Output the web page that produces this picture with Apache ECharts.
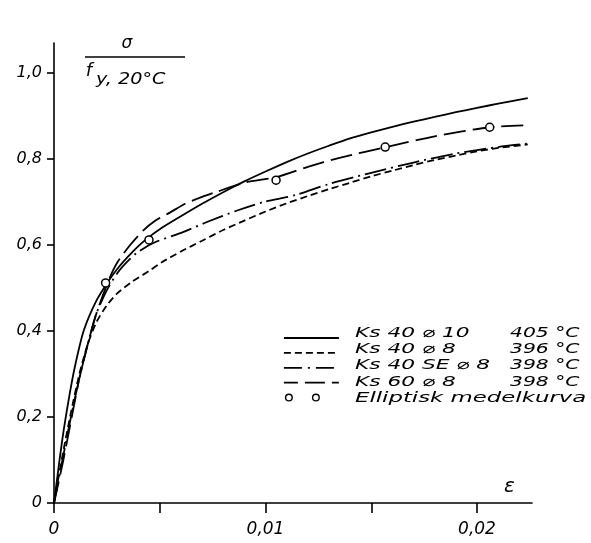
<!DOCTYPE html>
<html><head><meta charset="utf-8">
<script src="https://cdn.jsdelivr.net/npm/echarts@6/dist/echarts.min.js"></script>
<style>html,body{margin:0;padding:0;background:#fff}#c{width:591px;height:543px}</style>
</head><body><div id="c"></div>
<script>
// axis ticks / labels
const xTicks = [0, 0.005, 0.01, 0.015, 0.02];
const xLabels = [0, 0.01, 0.02];
const yTicks = [0, 0.2, 0.4, 0.6, 0.8, 1.0];

// legend texts
const seriesNames = ['Ks 40 \u2300 10', 'Ks 40 \u2300 8', 'Ks 40 SE \u2300 8', 'Ks 60 \u2300 8', 'Elliptisk medelkurva'];
const temps = ['405 °C', '396 °C', '398 °C', '398 °C', ''];

// Ks 40 ⌀ 10 (solid)
const s1X = [0, 0.0004, 0.00075, 0.001, 0.0014, 0.002, 0.0026, 0.003, 0.0035, 0.004, 0.0045, 0.005, 0.006, 0.007, 0.008, 0.009, 0.010, 0.011, 0.012, 0.013, 0.014, 0.015, 0.016, 0.017, 0.018, 0.019, 0.020, 0.021, 0.0224];
const s1Y = [0, 0.15, 0.256, 0.32, 0.40, 0.47, 0.518, 0.545, 0.573, 0.598, 0.619, 0.637, 0.667, 0.696, 0.723, 0.748, 0.771, 0.793, 0.813, 0.831, 0.848, 0.862, 0.875, 0.887, 0.898, 0.909, 0.919, 0.929, 0.942];

// Ks 40 ⌀ 8 (short dash)
const s2X = [0, 0.0004, 0.0008, 0.0012, 0.0016, 0.002, 0.0025, 0.003, 0.0037, 0.0045, 0.0051, 0.006, 0.007, 0.008, 0.009, 0.010, 0.011, 0.012, 0.013, 0.014, 0.015, 0.016, 0.017, 0.018, 0.019, 0.020, 0.021, 0.0224];
const s2Y = [0, 0.11, 0.21, 0.30, 0.37, 0.42, 0.46, 0.488, 0.515, 0.54, 0.56, 0.585, 0.61, 0.635, 0.657, 0.678, 0.697, 0.714, 0.73, 0.745, 0.76, 0.773, 0.786, 0.798, 0.808, 0.818, 0.826, 0.834];

// Ks 40 SE ⌀ 8 (dash-dot)
const s3X = [0, 0.0004, 0.0008, 0.0012, 0.0016, 0.002, 0.0025, 0.003, 0.0035, 0.004, 0.0048, 0.0061, 0.0072, 0.0087, 0.0099, 0.0114, 0.013, 0.015, 0.017, 0.019, 0.021, 0.0224];
const s3Y = [0, 0.10, 0.20, 0.29, 0.37, 0.44, 0.495, 0.535, 0.563, 0.585, 0.607, 0.630, 0.653, 0.681, 0.700, 0.716, 0.742, 0.768, 0.792, 0.813, 0.828, 0.836];

// Ks 60 ⌀ 8 (long dash)
const s4X = [0, 0.0004, 0.0008, 0.0012, 0.0016, 0.002, 0.0026, 0.003, 0.0036, 0.0042, 0.0048, 0.0055, 0.0062, 0.007, 0.0077, 0.009, 0.0105, 0.012, 0.0135, 0.0157, 0.018, 0.0206, 0.0224];
const s4Y = [0, 0.09, 0.19, 0.29, 0.37, 0.44, 0.52, 0.56, 0.60, 0.633, 0.657, 0.676, 0.696, 0.712, 0.724, 0.745, 0.758, 0.782, 0.803, 0.828, 0.853, 0.874, 0.879];

// Elliptisk medelkurva (circles)
const ellX = [0.00244, 0.00449, 0.0105, 0.01566, 0.0206];
const ellY = [0.512, 0.612, 0.751, 0.828, 0.874];

const zip = (xs, ys) => xs.map((x, i) => [x, ys[i]]);
const FONT = 'DejaVu Sans';
const fmtX = v => v === 0 ? '0' : v.toFixed(2).replace('.', ',');
const fmtY = v => v === 0 ? '0' : v.toFixed(1).replace('.', ',');

function ring(cx, cy, R, r) {
  return `M${cx - R},${cy} A${R},${R} 0 1,1 ${cx + R},${cy} A${R},${R} 0 1,1 ${cx - R},${cy} Z ` +
         `M${cx - r},${cy} A${r},${r} 0 1,0 ${cx + r},${cy} A${r},${r} 0 1,0 ${cx - r},${cy} Z `;
}
const ringIcon = 'path://M0,0 L0,0 ' + ring(5, 7, 4, 2.6) + ring(32, 7, 4, 2.6) + 'M55,14 L55,14';

const chart = echarts.init(document.getElementById('c'), null, {renderer: 'canvas'});
const lineW = 1.8;
const dashes = ['solid', [7, 4], [22, 5, 2, 5], [22, 7]];
const legendDashes = ['solid', [7, 4], [18, 6, 2, 6], [14, 7, 20, 7]];
const xs = [s1X, s2X, s3X, s4X], ys = [s1Y, s2Y, s3Y, s4Y];

const series = xs.map((xArr, i) => ({
  name: seriesNames[i],
  type: 'line',
  data: zip(xArr, ys[i]),
  symbol: 'none',
  smooth: 0.25,
  lineStyle: {color: '#000', width: lineW, type: dashes[i]},
  itemStyle: {color: '#000'},
  z: 2 + i
}));
series.push({
  name: seriesNames[4],
  type: 'scatter',
  data: zip(ellX, ellY),
  symbol: 'circle',
  symbolSize: 8,
  itemStyle: {color: '#fff', borderColor: '#000', borderWidth: 1.5, opacity: 1},
  z: 10
});

// legend rows (icons by the legend component, text next to them)
const legLeft = 278, legTop = 326, rowH = 16.3;
const legendTexts = [];
seriesNames.forEach((n, i) => {
  const y = legTop + 7 + i * rowH;
  legendTexts.push({type: 'text', x: 355, y: y, scaleX: i === 4 ? 1.63 : 1.55,
    style: {text: n, fontFamily: FONT, fontStyle: 'italic', fontSize: 14, fill: '#000', align: 'left', verticalAlign: 'middle'}});
  if (temps[i]) legendTexts.push({type: 'text', x: 510, y: y, scaleX: 1.45,
    style: {text: temps[i], fontFamily: FONT, fontStyle: 'italic', fontSize: 14, fill: '#000', align: 'left', verticalAlign: 'middle'}});
});

const hidden = {color: 'rgba(0,0,0,0)', borderColor: 'rgba(0,0,0,0)', borderWidth: 0};

chart.setOption({
  animation: false,
  backgroundColor: '#fff',
  grid: {left: 54, right: 59, top: 43, bottom: 40, containLabel: false, outerBoundsMode: 'none'},
  xAxis: {
    type: 'value', min: 0, max: 0.0226, interval: 0.005,
    name: 'ε', nameLocation: 'end', nameGap: -28,
    nameTextStyle: {fontFamily: FONT, fontStyle: 'italic', fontSize: 20, color: '#000', verticalAlign: 'bottom', padding: [0, 0, 6, 0]},
    axisLine: {show: true, lineStyle: {color: '#000', width: 1.6}},
    axisTick: {show: true, length: 10, lineStyle: {color: '#000', width: 1.6}, customValues: xTicks},
    axisLabel: {customValues: xLabels, formatter: fmtX, margin: 18, color: '#000',
      fontFamily: FONT, fontStyle: 'italic', fontSize: 17},
    splitLine: {show: false}
  },
  yAxis: {
    type: 'value', min: 0, max: 1.07, interval: 0.2,
    axisLine: {show: true, lineStyle: {color: '#000', width: 1.6}},
    axisTick: {show: true, length: 7, lineStyle: {color: '#000', width: 1.6}, customValues: yTicks},
    axisLabel: {customValues: yTicks, formatter: fmtY, margin: 12, color: '#000',
      fontFamily: FONT, fontStyle: 'italic', fontSize: 16},
    splitLine: {show: false}
  },
  legend: {
    orient: 'vertical', left: legLeft, top: legTop, itemWidth: 55, itemHeight: 14, itemGap: rowH - 14,
    selectedMode: false,
    textStyle: {fontSize: 1, color: 'rgba(0,0,0,0)'},
    formatter: () => '',
    data: [
      {name: seriesNames[0], itemStyle: hidden, lineStyle: {color: '#000', width: lineW, type: legendDashes[0]}},
      {name: seriesNames[1], itemStyle: hidden, lineStyle: {color: '#000', width: lineW, type: legendDashes[1]}},
      {name: seriesNames[2], itemStyle: hidden, lineStyle: {color: '#000', width: lineW, type: legendDashes[2]}},
      {name: seriesNames[3], itemStyle: hidden, lineStyle: {color: '#000', width: lineW, type: legendDashes[3]}},
      {name: seriesNames[4], icon: ringIcon, itemStyle: {color: '#000', borderWidth: 0}}
    ]
  },
  graphic: [
    {type: 'text', x: 127, y: 44, style: {text: 'σ', fontFamily: FONT, fontStyle: 'italic', fontSize: 17, fill: '#000', align: 'center', verticalAlign: 'middle'}},
    {type: 'line', shape: {x1: 85, y1: 57, x2: 185, y2: 57}, style: {stroke: '#000', lineWidth: 1.6}},
    {type: 'text', x: 89, y: 71, style: {text: 'f', fontFamily: FONT, fontStyle: 'italic', fontSize: 18, fill: '#000', align: 'center', verticalAlign: 'middle'}},
    {type: 'text', x: 96, y: 80, scaleX: 1.2, style: {text: 'y, 20°C', fontFamily: FONT, fontStyle: 'italic', fontSize: 16, fill: '#000', align: 'left', verticalAlign: 'middle'}}
  ].concat(legendTexts),
  series: series
});
</script>
</body></html>
